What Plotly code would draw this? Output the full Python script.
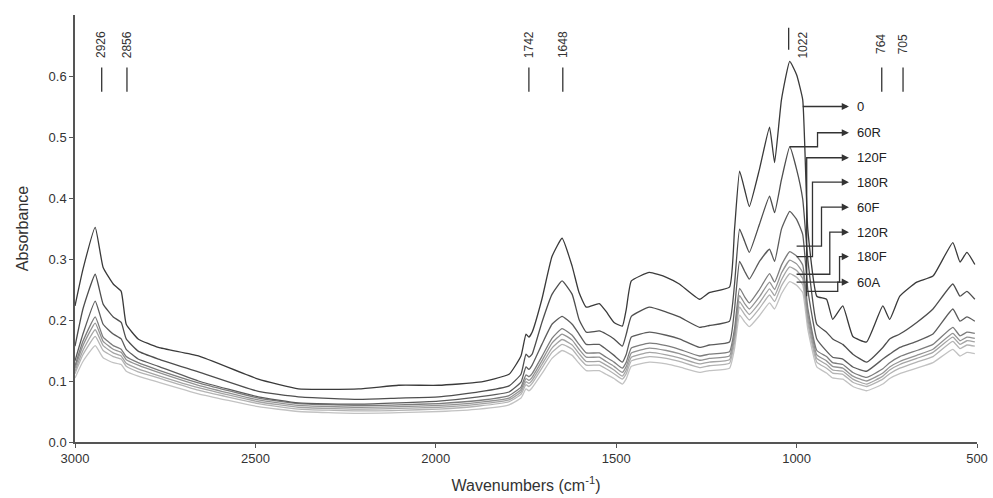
import plotly.graph_objects as go

# ---- data ----
wavenumber = [3000, 2978, 2944, 2922, 2894, 2872, 2858, 2825, 2769, 2658,
              2492, 2381, 2214, 2103, 1992, 1881, 1797, 1764, 1750, 1742,
              1733, 1706, 1678, 1650, 1622, 1603, 1583, 1547, 1528, 1506,
              1483, 1472, 1458, 1408, 1361, 1325, 1269, 1242, 1186, 1172,
              1158, 1144, 1131, 1103, 1075, 1061, 1042, 1019, 1000, 983,
              969, 944, 917, 900, 872, 844, 806, 761, 742, 714,
              667, 622, 567, 547, 528, 506]

abs_0 = [0.223, 0.283, 0.352, 0.286, 0.259, 0.247, 0.193, 0.169, 0.155, 0.141,
         0.103, 0.087, 0.087, 0.093, 0.093, 0.098, 0.111, 0.141, 0.177, 0.172,
         0.180, 0.234, 0.304, 0.334, 0.288, 0.245, 0.221, 0.227, 0.214, 0.196,
         0.190, 0.218, 0.264, 0.278, 0.270, 0.259, 0.234, 0.245, 0.254, 0.349,
         0.444, 0.414, 0.386, 0.447, 0.516, 0.458, 0.561, 0.624, 0.602, 0.561,
         0.349, 0.239, 0.234, 0.201, 0.223, 0.173, 0.164, 0.223, 0.201, 0.239,
         0.262, 0.272, 0.327, 0.295, 0.311, 0.291]

abs_60R = [0.157, 0.218, 0.275, 0.226, 0.205, 0.196, 0.169, 0.149, 0.136, 0.115,
           0.083, 0.074, 0.070, 0.072, 0.074, 0.082, 0.092, 0.111, 0.144, 0.139,
           0.144, 0.196, 0.242, 0.264, 0.242, 0.201, 0.180, 0.182, 0.177, 0.169,
           0.157, 0.177, 0.206, 0.221, 0.213, 0.205, 0.188, 0.191, 0.198, 0.259,
           0.349, 0.329, 0.311, 0.357, 0.403, 0.376, 0.430, 0.484, 0.447, 0.398,
           0.300, 0.193, 0.180, 0.169, 0.160, 0.144, 0.131, 0.155, 0.169, 0.177,
           0.196, 0.218, 0.259, 0.239, 0.247, 0.234]

abs_120F = [0.133, 0.177, 0.231, 0.193, 0.177, 0.169, 0.152, 0.136, 0.124, 0.100,
            0.074, 0.064, 0.062, 0.064, 0.067, 0.074, 0.082, 0.098, 0.123, 0.119,
            0.126, 0.160, 0.193, 0.206, 0.193, 0.177, 0.160, 0.160, 0.152, 0.142,
            0.131, 0.144, 0.172, 0.180, 0.175, 0.169, 0.155, 0.159, 0.164, 0.218,
            0.296, 0.280, 0.267, 0.296, 0.316, 0.296, 0.349, 0.378, 0.365, 0.340,
            0.250, 0.169, 0.149, 0.139, 0.136, 0.123, 0.116, 0.136, 0.144, 0.155,
            0.165, 0.177, 0.218, 0.198, 0.205, 0.198]

abs_180R = [0.125, 0.165, 0.205, 0.172, 0.158, 0.152, 0.140, 0.130, 0.118, 0.097,
            0.072, 0.063, 0.060, 0.061, 0.063, 0.068, 0.076, 0.090, 0.110, 0.107,
            0.112, 0.140, 0.170, 0.186, 0.175, 0.160, 0.146, 0.146, 0.139, 0.131,
            0.121, 0.131, 0.154, 0.162, 0.158, 0.152, 0.141, 0.144, 0.148, 0.186,
            0.252, 0.238, 0.228, 0.250, 0.276, 0.262, 0.290, 0.312, 0.305, 0.290,
            0.220, 0.150, 0.140, 0.130, 0.127, 0.114, 0.106, 0.120, 0.130, 0.140,
            0.150, 0.160, 0.188, 0.174, 0.180, 0.178]

abs_60F = [0.121, 0.158, 0.195, 0.165, 0.152, 0.147, 0.135, 0.126, 0.114, 0.093,
           0.069, 0.060, 0.057, 0.058, 0.060, 0.065, 0.072, 0.086, 0.104, 0.101,
           0.106, 0.133, 0.162, 0.177, 0.167, 0.152, 0.139, 0.139, 0.132, 0.124,
           0.114, 0.124, 0.146, 0.154, 0.150, 0.145, 0.134, 0.137, 0.141, 0.177,
           0.240, 0.227, 0.218, 0.238, 0.262, 0.250, 0.277, 0.298, 0.292, 0.278,
           0.210, 0.143, 0.133, 0.124, 0.121, 0.108, 0.100, 0.113, 0.123, 0.132,
           0.142, 0.152, 0.178, 0.166, 0.172, 0.170]

abs_120R = [0.116, 0.150, 0.184, 0.158, 0.146, 0.141, 0.129, 0.120, 0.109, 0.089,
            0.066, 0.057, 0.054, 0.055, 0.057, 0.062, 0.069, 0.082, 0.099, 0.096,
            0.101, 0.127, 0.154, 0.168, 0.159, 0.145, 0.132, 0.132, 0.126, 0.118,
            0.108, 0.118, 0.139, 0.147, 0.143, 0.138, 0.128, 0.131, 0.135, 0.170,
            0.230, 0.218, 0.209, 0.228, 0.251, 0.240, 0.266, 0.287, 0.281, 0.268,
            0.202, 0.137, 0.127, 0.118, 0.116, 0.103, 0.095, 0.108, 0.118, 0.127,
            0.137, 0.147, 0.172, 0.160, 0.166, 0.164]

abs_180F = [0.112, 0.143, 0.173, 0.150, 0.140, 0.136, 0.124, 0.115, 0.105, 0.085,
            0.063, 0.054, 0.051, 0.052, 0.054, 0.059, 0.066, 0.078, 0.094, 0.091,
            0.096, 0.121, 0.147, 0.160, 0.152, 0.138, 0.126, 0.126, 0.120, 0.112,
            0.103, 0.112, 0.133, 0.140, 0.137, 0.132, 0.122, 0.125, 0.129, 0.163,
            0.221, 0.209, 0.200, 0.219, 0.241, 0.230, 0.256, 0.276, 0.270, 0.258,
            0.195, 0.131, 0.121, 0.113, 0.111, 0.098, 0.091, 0.103, 0.112, 0.121,
            0.131, 0.140, 0.165, 0.153, 0.159, 0.157]

abs_60A = [0.105, 0.132, 0.158, 0.138, 0.130, 0.127, 0.116, 0.108, 0.098, 0.079,
           0.058, 0.050, 0.047, 0.048, 0.050, 0.054, 0.061, 0.072, 0.087, 0.084,
           0.089, 0.112, 0.137, 0.150, 0.142, 0.129, 0.117, 0.117, 0.111, 0.104,
           0.095, 0.104, 0.124, 0.131, 0.128, 0.123, 0.114, 0.117, 0.121, 0.153,
           0.208, 0.197, 0.189, 0.207, 0.228, 0.218, 0.243, 0.263, 0.257, 0.245,
           0.185, 0.123, 0.113, 0.105, 0.103, 0.091, 0.084, 0.095, 0.104, 0.112,
           0.121, 0.130, 0.152, 0.141, 0.147, 0.145]

series_names = ["0", "60R", "120F", "180R", "60F", "120R", "180F", "60A"]
series_values = [abs_0, abs_60R, abs_120F, abs_180R, abs_60F, abs_120R, abs_180F, abs_60A]
series_colors = ["#3a3a3a", "#4e4e4e", "#5c5c5c", "#7c7c7c", "#939393", "#a4a4a4", "#b3b3b3", "#c2c2c2"]

peak_labels = ["2926", "2856", "1742", "1648", "1022", "764", "705"]
peak_positions = [2926, 2856, 1742, 1648, 1022, 764, 705]

x_ticks = [3000, 2500, 2000, 1500, 1000, 500]
y_ticks = [0.0, 0.1, 0.2, 0.3, 0.4, 0.5, 0.6]

for v in series_values:
    assert len(v) == len(wavenumber)

FONT = "Liberation Sans, Arial, sans-serif"
fig = go.Figure()

# draw lighter curves first so darker ones sit on top
for name, vals, col in reversed(list(zip(series_names, series_values, series_colors))):
    fig.add_trace(go.Scatter(x=wavenumber, y=vals, mode="lines", name=name,
                             line=dict(color=col, width=1.3, shape="spline", smoothing=0.4),
                             showlegend=False))

shapes = []
annotations = []

# peak markers
for lab, pos in zip(peak_labels, peak_positions):
    if lab == "1022":
        shapes.append(dict(type="line", xref="x", yref="y", x0=pos, x1=pos, y0=0.643, y1=0.679,
                           line=dict(color="#333", width=1.3)))
        annotations.append(dict(x=pos, y=0.651, xref="x", yref="y", text=lab, showarrow=False,
                                textangle=-90, xshift=14, font=dict(family=FONT, size=12, color="#333")))
    else:
        shapes.append(dict(type="line", xref="x", yref="y", x0=pos, x1=pos, y0=0.574, y1=0.614,
                           line=dict(color="#333", width=1.3)))
        annotations.append(dict(x=pos, y=0.652, xref="x", yref="y", text=lab, showarrow=False,
                                textangle=-90, font=dict(family=FONT, size=12, color="#333")))

# connector lines from curves to labels: (path points, arrow tail)
head_x = 855
label_x = 838
connectors = [
    ("0",    [],                                                   (983, 0.550)),
    ("60R",  [(1019, 0.484), (942, 0.484), (942, 0.507)],          (942, 0.507)),
    ("120F", [(972, 0.239), (972, 0.466)],                         (972, 0.466)),
    ("180R", [(1000, 0.304), (956, 0.304), (956, 0.426)],          (956, 0.426)),
    ("60F",  [(1000, 0.321), (931, 0.321), (931, 0.385)],          (931, 0.385)),
    ("120R", [(1000, 0.275), (908, 0.275), (908, 0.344)],          (908, 0.344)),
    ("180F", [(1000, 0.262), (881, 0.262), (881, 0.304)],          (881, 0.304)),
    ("60A",  [(972, 0.247), (886, 0.247), (886, 0.262)],           (886, 0.262)),
]
for lab, pts, tail in connectors:
    segs = pts + [(head_x + 6, tail[1])] if pts else [tail, (head_x + 6, tail[1])]
    path = "M " + " L ".join(f"{px},{py}" for px, py in segs)
    shapes.append(dict(type="path", xref="x", yref="y", path=path,
                       line=dict(color="#333", width=1.3)))
    annotations.append(dict(x=head_x, y=tail[1], ax=head_x + 12, ay=tail[1], xref="x", yref="y",
                            axref="x", ayref="y", text=" ", showarrow=True, arrowhead=2,
                            arrowsize=1.1, arrowwidth=1.3, arrowcolor="#333",
                            font=dict(size=2)))
    annotations.append(dict(x=label_x, y=tail[1], xref="x", yref="y", text=lab, showarrow=False,
                            xanchor="left", yanchor="middle",
                            font=dict(family=FONT, size=13, color="#222")))

fig.update_layout(
    width=993, height=498,
    margin=dict(l=75, r=16, t=15, b=56),
    paper_bgcolor="white", plot_bgcolor="white",
    font=dict(family=FONT, size=13, color="#333"),
    shapes=shapes, annotations=annotations,
    xaxis=dict(range=[3000, 500], tickvals=x_ticks, ticks="outside", ticklen=4, tickwidth=1,
               tickcolor="#555", showline=True, linecolor="#555", linewidth=1.5,
               showgrid=False, zeroline=False, ticklabeloverflow="allow", automargin=False,
               tickfont=dict(family=FONT, size=13, color="#333"),
               title=dict(text="Wavenumbers (cm<sup>-1</sup>)", standoff=14,
                          font=dict(family=FONT, size=16, color="#333"))),
    yaxis=dict(range=[0, 0.70], tickvals=y_ticks, tickformat=".1f", ticks="outside", ticklen=4,
               tickwidth=1, tickcolor="#555", showline=True, linecolor="#555", linewidth=1.5,
               showgrid=False, zeroline=False, automargin=False,
               tickfont=dict(family=FONT, size=13, color="#333"),
               title=dict(text="Absorbance", standoff=16,
                          font=dict(family=FONT, size=16, color="#333"))),
)

fig.write_html("out.html")
